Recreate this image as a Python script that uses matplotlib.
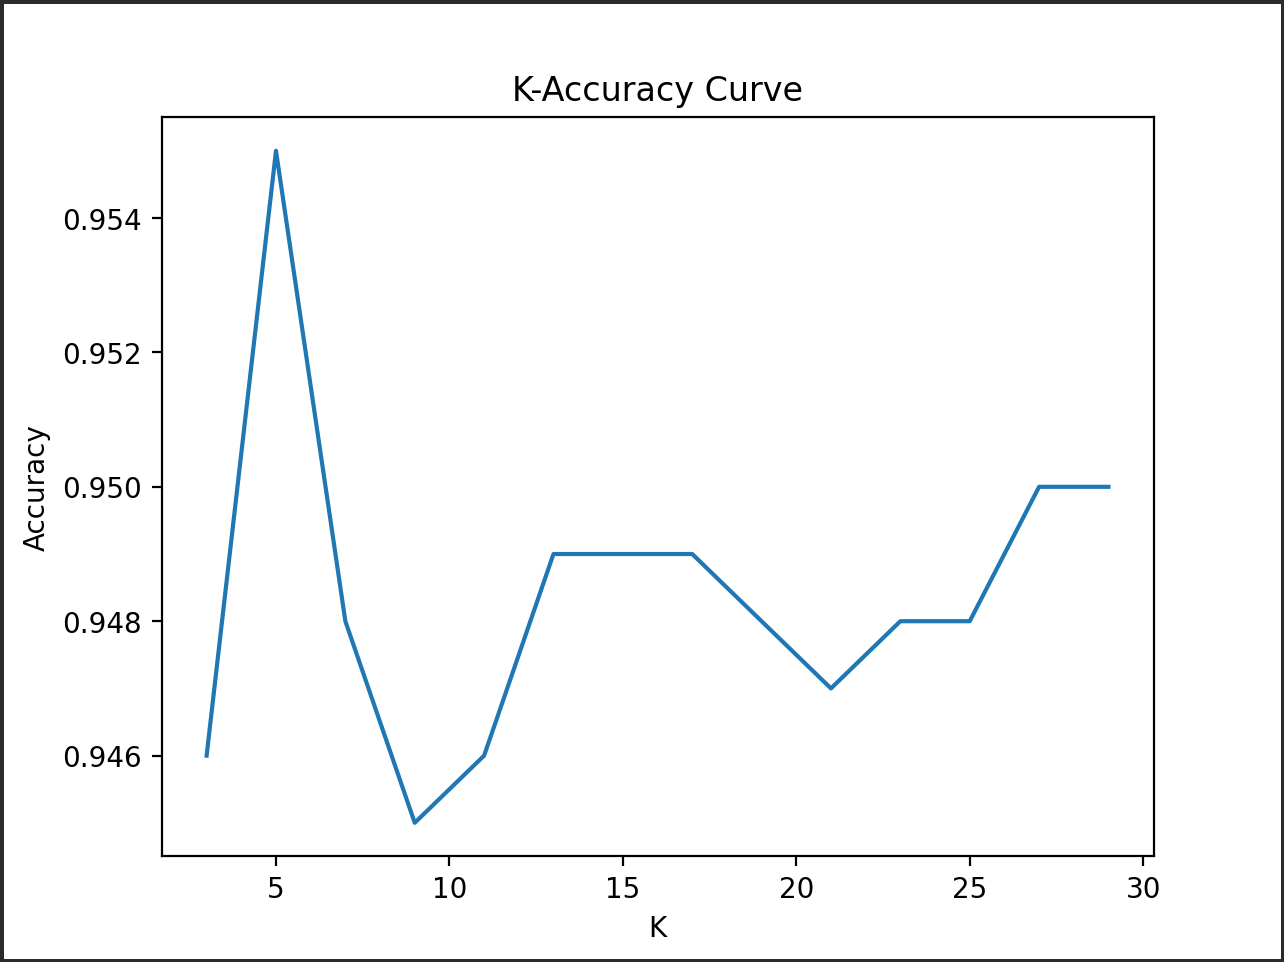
import matplotlib
matplotlib.use('Agg')
import matplotlib.pyplot as plt

# K values and measured accuracy
k_values = [3, 5, 7, 9, 11, 13, 15, 17, 19, 21, 23, 25, 27, 29]
accuracy = [0.946, 0.955, 0.948, 0.945, 0.946, 0.949, 0.949, 0.949,
            0.948, 0.947, 0.948, 0.948, 0.950, 0.950]

fig = plt.figure(figsize=(6.42, 4.8125), dpi=200, edgecolor='#2b2b2b', linewidth=2.5)
ax = fig.add_axes([0.1258, 0.1097, 0.8984 - 0.1258, 0.8777 - 0.1097])
ax.plot(k_values, accuracy)
ax.set_title('K-Accuracy Curve')
ax.set_xlabel('K')
ax.set_ylabel('Accuracy')
ax.set_yticks([0.946, 0.948, 0.950, 0.952, 0.954])

fig.savefig('out.png', dpi=200, edgecolor=fig.get_edgecolor())
